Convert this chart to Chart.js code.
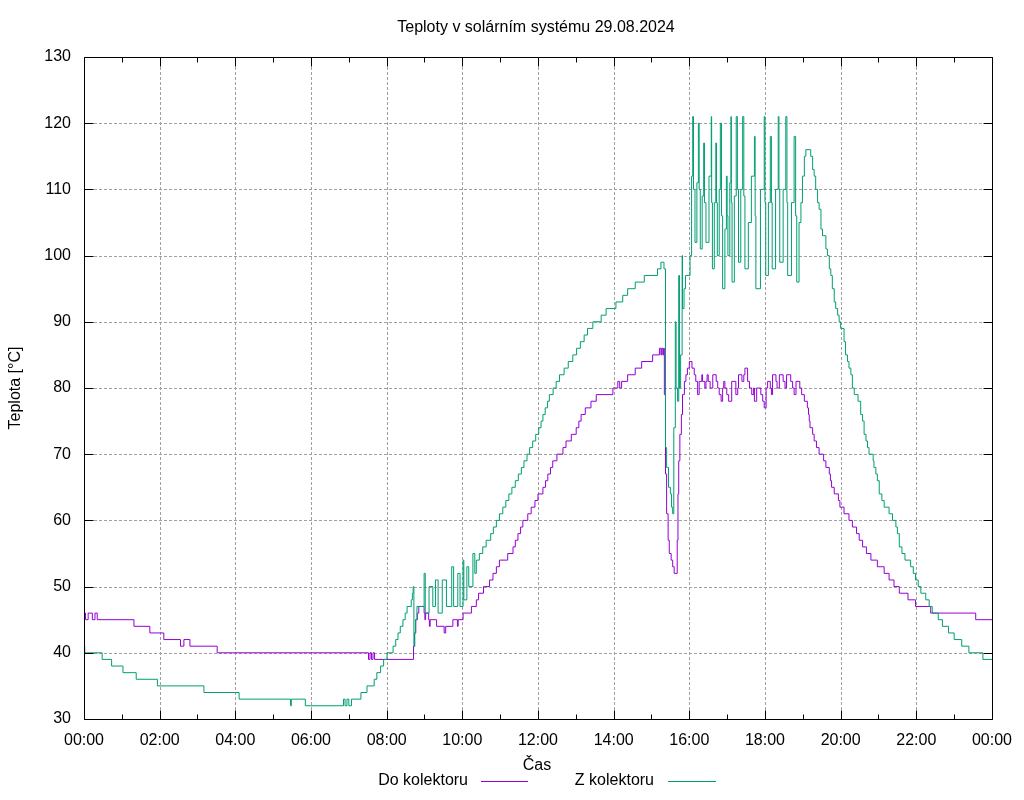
<!DOCTYPE html>
<html>
<head>
<meta charset="utf-8">
<script src="https://cdn.jsdelivr.net/npm/chart.js@4/dist/chart.umd.min.js"></script>
<style>
  html, body { margin: 0; padding: 0; background: #fff; }
  #wrap { width: 1024px; height: 800px; }
</style>
</head>
<body>
<div id="wrap"><canvas id="solarChart" width="1024" height="800"></canvas></div>
<script>
// Teploty v solárním systému 29.08.2024 - hodnoty odečteny z grafu
// cas v hodinach (desetinne), teplota ve °C, hodnota plati od daneho casu

const chartTitle = "Teploty v solárním systému 29.08.2024";
const xTitle = "Čas";
const yTitle = "Teplota [°C]";
const seriesNames = ["Do kolektoru", "Z kolektoru"];

const xTickHours = [0, 2, 4, 6, 8, 10, 12, 14, 16, 18, 20, 22, 24];
const yTicks = [30, 40, 50, 60, 70, 80, 90, 100, 110, 120, 130];

// Do kolektoru
const doTime = [
  0.00, 0.04, 0.11, 0.22, 0.29, 0.35, 1.32, 1.74, 2.11, 2.55, 2.64, 2.80, 3.52,
  7.52, 7.56, 7.60, 7.64, 7.68, 8.71, 8.74, 8.77, 8.81, 8.85, 8.99, 9.01, 9.03,
  9.11, 9.13, 9.15, 9.32, 9.52, 9.56, 9.75, 9.87, 9.89, 10.02, 10.24, 10.37,
  10.43, 10.56, 10.72, 10.81, 10.90, 10.98, 11.20, 11.34, 11.40, 11.47, 11.54,
  11.60, 11.73, 11.82, 11.92, 12.00, 12.13, 12.20, 12.26, 12.33, 12.39, 12.50,
  12.66, 12.74, 12.88, 13.01, 13.08, 13.14, 13.25, 13.40, 13.54, 13.98, 14.11,
  14.16, 14.21, 14.37, 14.57, 14.74, 15.03, 15.21, 15.25, 15.27, 15.30, 15.32,
  15.34, 15.37, 15.40, 15.44, 15.47, 15.52, 15.56, 15.60, 15.68, 15.70, 15.72,
  15.75, 15.79, 15.82, 15.87, 15.91, 15.95, 16.00, 16.07, 16.13, 16.17, 16.22,
  16.26, 16.33, 16.35, 16.41, 16.44, 16.47, 16.50, 16.55, 16.62, 16.71, 16.75,
  16.79, 16.84, 16.88, 16.91, 16.94, 16.99, 17.04, 17.12, 17.23, 17.28, 17.30,
  17.39, 17.44, 17.47, 17.54, 17.59, 17.65, 17.70, 17.72, 17.78, 17.89, 17.94,
  17.98, 18.03, 18.07, 18.14, 18.17, 18.20, 18.29, 18.32, 18.38, 18.48, 18.53,
  18.57, 18.68, 18.73, 18.77, 18.82, 18.92, 18.97, 19.04, 19.12, 19.15, 19.17,
  19.19, 19.26, 19.30, 19.36, 19.43, 19.55, 19.61, 19.70, 19.73, 19.76, 19.83,
  19.94, 19.98, 20.09, 20.22, 20.31, 20.42, 20.49, 20.58, 20.68, 20.80, 20.97,
  21.15, 21.28, 21.41, 21.55, 21.78, 21.98, 22.38, 23.57, 24.00
];
const doTemp = [
  46, 45, 46, 45, 46, 45, 44, 43, 42, 41, 42, 41, 40,
  39, 40, 39, 40, 39, 41, 43, 45, 46, 47, 46, 45, 46,
  45, 44, 45, 44, 43, 44, 45, 44, 45, 46, 47, 48,
  49, 50, 51, 52, 53, 54, 55, 56, 57, 58, 59,
  60, 61, 62, 63, 64, 65, 66, 67, 68, 69, 70,
  71, 72, 73, 74, 75, 76, 77, 78, 79, 80, 81,
  80, 81, 82, 83, 84, 85, 86, 85, 86, 85, 86,
  79, 67, 61, 57, 55, 54, 53, 52, 57, 64, 69,
  73, 76, 79, 81, 82, 83, 84, 83, 82, 81, 79,
  81, 82, 81, 80, 81, 82, 81, 80, 82, 81, 80,
  79, 78, 80, 81, 80, 79, 78, 81, 79, 80, 82,
  81, 82, 83, 81, 80, 79, 80, 78, 80, 79, 78,
  77, 80, 81, 80, 79, 82, 81, 80, 82, 81, 80,
  82, 81, 80, 79, 81, 80, 79, 78, 77, 76, 75,
  74, 73, 72, 71, 70, 69, 68, 67, 66, 65, 64,
  63, 62, 61, 60, 59, 58, 57, 56, 55, 54, 53,
  52, 51, 50, 49, 48, 47, 46, 45, 45
];

// Z kolektoru
const zTime = [
  0.00, 0.02, 0.48, 0.73, 1.03, 1.38, 1.94, 3.17, 4.10, 5.46, 5.48, 5.85, 6.86,
  6.90, 6.95, 7.00, 7.07, 7.32, 7.48, 7.67, 7.74, 7.84, 7.92, 8.01, 8.17, 8.24,
  8.30, 8.36, 8.43, 8.49, 8.54, 8.65, 8.68, 8.70, 8.72, 8.74, 8.76, 8.80, 8.99,
  9.02, 9.12, 9.22, 9.29, 9.36, 9.47, 9.58, 9.72, 9.77, 9.88, 9.94, 10.02, 10.04,
  10.12, 10.17, 10.28, 10.33, 10.37, 10.45, 10.54, 10.63, 10.75, 10.82, 10.90,
  10.98, 11.07, 11.15, 11.23, 11.31, 11.40, 11.48, 11.56, 11.63, 11.71, 11.78,
  11.86, 11.94, 12.02, 12.08, 12.13, 12.19, 12.25, 12.30, 12.40, 12.48, 12.57,
  12.69, 12.80, 12.92, 13.02, 13.12, 13.22, 13.31, 13.45, 13.67, 13.80, 14.06,
  14.24, 14.37, 14.57, 14.81, 15.16, 15.25, 15.33, 15.37, 15.40, 15.45, 15.50,
  15.53, 15.56, 15.59, 15.63, 15.65, 15.69, 15.72, 15.74, 15.77, 15.81, 15.82,
  15.86, 15.90,
  16.02, 16.06, 16.09, 16.11, 16.15, 16.20, 16.24, 16.26, 16.29, 16.34, 16.38,
  16.40, 16.44, 16.52, 16.58, 16.59, 16.61, 16.66, 16.70, 16.72, 16.74, 16.79,
  16.82, 16.85, 16.88, 16.94, 16.98, 17.00, 17.02, 17.07, 17.10, 17.11, 17.13,
  17.19, 17.24, 17.27, 17.30, 17.36, 17.41, 17.44, 17.47, 17.56, 17.64, 17.72,
  17.74, 17.76, 17.88, 17.98, 18.00, 18.02, 18.09, 18.14, 18.17, 18.19, 18.28,
  18.35, 18.37, 18.39, 18.48, 18.55, 18.58, 18.60, 18.70, 18.77, 18.81, 18.84,
  18.90, 18.95, 18.99, 19.04, 19.08, 19.21, 19.26, 19.30, 19.34,
  19.39, 19.43, 19.48, 19.52, 19.61, 19.65, 19.70, 19.74, 19.78, 19.83, 19.87,
  19.92, 19.96, 20.00, 20.09, 20.13, 20.18, 20.22, 20.27, 20.31, 20.36, 20.46,
  20.53, 20.58, 20.62, 20.67, 20.71, 20.75, 20.86, 20.88, 20.93, 20.97, 21.02,
  21.09, 21.15, 21.28, 21.37, 21.46, 21.50, 21.55, 21.62, 21.70, 21.85, 21.92,
  21.98, 22.05, 22.12, 22.25, 22.34, 22.42, 22.58, 22.69, 22.85, 23.00, 23.20,
  23.39, 23.76, 24.00
];
const zTemp = [
  41, 40, 39, 38, 37, 36, 35, 34, 33, 32, 33, 32, 33,
  32, 33, 32, 33, 34, 35, 36, 37, 38, 39, 40, 41, 42,
  43, 44, 45, 46, 47, 48, 49, 50, 41, 43, 45, 47, 52,
  46, 50, 47, 51, 46, 51, 47, 53, 47, 52, 47, 54, 48,
  53, 50, 55, 52, 54, 55, 56, 57, 58, 59, 60,
  61, 62, 63, 64, 65, 66, 67, 68, 69, 70, 71,
  72, 73, 74, 75, 76, 77, 78, 79, 80, 81, 82,
  83, 84, 85, 86, 87, 88, 89, 90, 91, 92, 93,
  94, 95, 96, 97, 98, 99, 98, 71, 68, 65, 64,
  62, 61, 74, 90, 80, 78, 97, 80, 85, 100, 92,
  95, 97,
  100, 112, 121, 110, 102, 111, 120, 110, 101, 109, 117,
  108, 102, 112, 121, 108, 98, 108, 117, 108, 100, 110,
  120, 106, 95, 104, 112, 106, 100, 111, 121, 108, 96,
  109, 121, 110, 99, 110, 121, 109, 98, 105, 112, 118,
  106, 95, 110, 121, 108, 97, 108, 118, 108, 98, 110,
  121, 110, 99, 110, 121, 108, 97, 108, 118, 106, 96,
  105, 108, 112, 115, 116, 115, 113, 112, 110,
  108, 107, 104, 103, 101, 100, 98, 97, 95, 93, 92,
  91, 90, 89, 87, 85, 84, 83, 82, 80, 79, 78,
  76, 75, 73, 72, 71, 70, 69, 68, 67, 66, 64,
  63, 62, 61, 60, 59, 58, 56, 55, 54, 53, 52,
  51, 50, 49, 48, 47, 46, 45, 44, 43, 42, 41,
  40, 39, 39
];

const doColor = "#9400d3";
const zColor = "#009e73";
const fontFamily = "'Liberation Sans', Arial, sans-serif";

function toPoints(times, temps) {
  return times.map((t, i) => ({ x: t, y: temps[i] }));
}

function hourLabel(h) {
  return String(h % 24).padStart(2, "0") + ":00";
}

// gnuplot-like frame: dashed grid, border, inward ticks, texts and key
const gnuplotFrame = {
  id: "gnuplotFrame",
  beforeDatasetsDraw(chart) {
    const { ctx, chartArea: a, scales: { x, y } } = chart;
    ctx.save();
    ctx.strokeStyle = "#a0a0a0";
    ctx.lineWidth = 1;
    ctx.setLineDash([3, 2]);
    ctx.beginPath();
    xTickHours.forEach(h => {
      if (h <= x.min || h >= x.max) return;
      const px = Math.round(x.getPixelForValue(h)) + 0.5;
      ctx.moveTo(px, a.top);
      ctx.lineTo(px, a.bottom);
    });
    yTicks.forEach(v => {
      if (v <= y.min || v >= y.max) return;
      const py = Math.round(y.getPixelForValue(v)) + 0.5;
      ctx.moveTo(a.left, py);
      ctx.lineTo(a.right, py);
    });
    ctx.stroke();
    ctx.restore();
  },
  afterDatasetsDraw(chart) {
    const { ctx, chartArea: a, scales: { x, y } } = chart;
    const L = Math.round(a.left) + 0.5, R = Math.round(a.right) + 0.5;
    const T = Math.round(a.top) + 0.5, B = Math.round(a.bottom) + 0.5;
    ctx.save();
    ctx.strokeStyle = "#000";
    ctx.lineWidth = 1;
    ctx.setLineDash([]);
    ctx.beginPath();
    ctx.rect(L, T, R - L, B - T);
    // x ticks, major every 2 h, minor every hour
    for (let h = 0; h <= 24; h++) {
      const len = h % 2 === 0 ? 9 : 5;
      const px = Math.round(x.getPixelForValue(h)) + 0.5;
      ctx.moveTo(px, B); ctx.lineTo(px, B - len);
      ctx.moveTo(px, T); ctx.lineTo(px, T + len);
    }
    yTicks.forEach(v => {
      const py = Math.round(y.getPixelForValue(v)) + 0.5;
      ctx.moveTo(L, py); ctx.lineTo(L + 9, py);
      ctx.moveTo(R, py); ctx.lineTo(R - 9, py);
    });
    ctx.stroke();
    ctx.restore();
  },
  afterDraw(chart) {
    const { ctx, chartArea: a } = chart;
    ctx.save();
    ctx.fillStyle = "#000";
    ctx.font = "16px " + fontFamily;
    ctx.textBaseline = "middle";
    ctx.textAlign = "center";
    ctx.fillText(chartTitle, 536, 28);
    ctx.fillText(xTitle, (a.left + a.right) / 2 - 1, 766);
    ctx.save();
    ctx.translate(16, (a.top + a.bottom) / 2);
    ctx.rotate(-Math.PI / 2);
    ctx.fillText(yTitle, 0, 0);
    ctx.restore();
    // key: text right aligned, line sample in the series colour
    const keys = [
      { name: seriesNames[0], color: chart.data.datasets[0].borderColor, textRight: 468, x0: 481, x1: 528 },
      { name: seriesNames[1], color: chart.data.datasets[1].borderColor, textRight: 654, x0: 668, x1: 716 }
    ];
    keys.forEach(k => {
      ctx.textAlign = "right";
      ctx.fillStyle = "#000";
      ctx.fillText(k.name, k.textRight, 781);
      ctx.fillStyle = k.color;
      ctx.fillRect(k.x0, 781, k.x1 - k.x0, 1);
    });
    ctx.restore();
  }
};

new Chart(document.getElementById("solarChart"), {
  type: "line",
  data: {
    datasets: [
      {
        label: seriesNames[0],
        data: toPoints(doTime, doTemp),
        borderColor: doColor,
        borderWidth: 1,
        pointRadius: 0,
        stepped: "before",
        order: 2
      },
      {
        label: seriesNames[1],
        data: toPoints(zTime, zTemp),
        borderColor: zColor,
        borderWidth: 1,
        pointRadius: 0,
        stepped: "before",
        order: 1
      }
    ]
  },
  options: {
    responsive: false,
    animation: false,
    events: [],
    layout: { padding: { top: 57, right: 31, left: 0, bottom: 0 } },
    plugins: {
      legend: { display: false },
      title: { display: false },
      tooltip: { enabled: false }
    },
    scales: {
      x: {
        type: "linear",
        min: 0,
        max: 24,
        afterFit(scale) { scale.height = 81; },
        afterBuildTicks(scale) { scale.ticks = xTickHours.map(v => ({ value: v })); },
        grid: { display: false, drawTicks: false },
        border: { display: false },
        ticks: {
          autoSkip: false,
          maxRotation: 0,
          padding: 12,
          color: "#000",
          font: { family: fontFamily, size: 16 },
          callback: v => hourLabel(v)
        }
      },
      y: {
        min: 30,
        max: 130,
        afterFit(scale) { scale.width = 84; },
        afterBuildTicks(scale) { scale.ticks = yTicks.map(v => ({ value: v })); },
        grid: { display: false, drawTicks: false },
        border: { display: false },
        ticks: {
          padding: 13,
          color: "#000",
          font: { family: fontFamily, size: 16 },
          callback: v => String(v)
        }
      }
    }
  },
  plugins: [gnuplotFrame]
});
</script>
</body>
</html>
